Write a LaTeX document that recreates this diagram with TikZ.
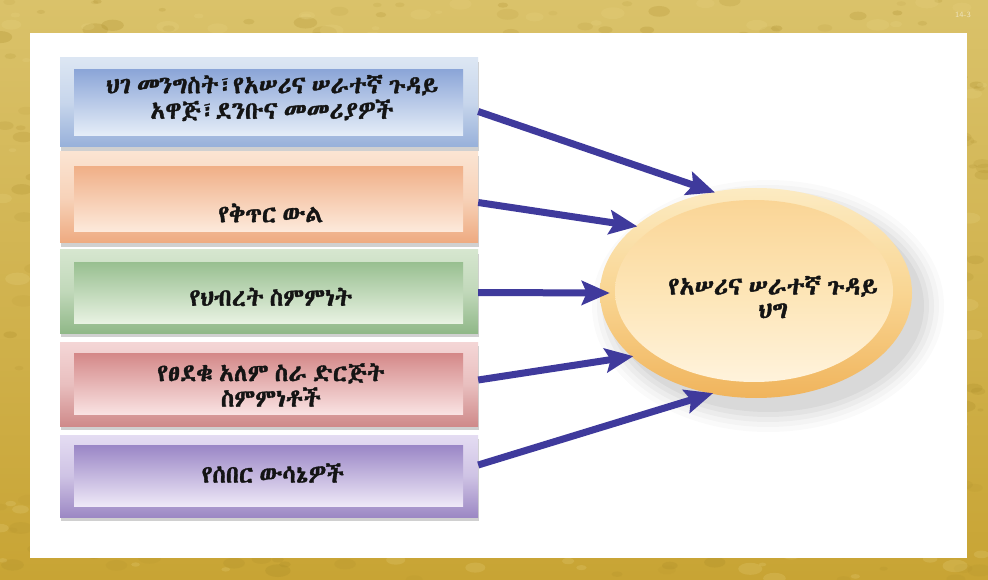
\documentclass[tikz,border=0pt]{standalone}
\usepackage{fontspec}
\usetikzlibrary{arrows.meta,shadows,shapes.geometric}
\IfFontExistsTF{Abyssinica SIL}{\newfontfamily\eth[Script=Ethiopic,FakeBold=1.4,WordSpace=0.55]{Abyssinica SIL}}{%
 \IfFontExistsTF{Noto Sans Ethiopic}{\newfontfamily\eth[Script=Ethiopic,FakeBold=1.0,WordSpace=0.55]{Noto Sans Ethiopic}}{%
  \IfFontExistsTF{Noto Serif Ethiopic}{\newfontfamily\eth[Script=Ethiopic,FakeBold=1.0,WordSpace=0.55]{Noto Serif Ethiopic}}{%
   \IfFontExistsTF{FreeSerif}{\newfontfamily\eth[Script=Ethiopic,FakeBold=1.2,WordSpace=0.55]{FreeSerif}}{%
    \newfontfamily\eth{Noto Sans}}}}}
\definecolor{goldA}{HTML}{DAC26A}
\definecolor{goldB}{HTML}{C8A434}
\definecolor{goldD}{HTML}{A88A28}
\definecolor{goldL}{HTML}{E8D484}
\definecolor{arrowc}{HTML}{3F3A9C}
\definecolor{elOt}{HTML}{FCEBC2}\definecolor{elOm}{HTML}{F9D592}\definecolor{elOb}{HTML}{F0B45C}
\definecolor{elIt}{HTML}{FAD596}\definecolor{elIm}{HTML}{FDE5B6}\definecolor{elIb}{HTML}{FFF3DC}
% box colours: frame top, frame bottom, inner top, inner bottom
\definecolor{bAft}{HTML}{DCE6F3}\definecolor{bAfb}{HTML}{97B0DA}\definecolor{bAit}{HTML}{8CA6D8}\definecolor{bAib}{HTML}{E6EEF8}
\definecolor{bBft}{HTML}{FBE4D2}\definecolor{bBfb}{HTML}{EEAA80}\definecolor{bBit}{HTML}{F0B088}\definecolor{bBib}{HTML}{FDEADC}
\definecolor{bCft}{HTML}{D6E6CF}\definecolor{bCfb}{HTML}{90B888}\definecolor{bCit}{HTML}{98BF90}\definecolor{bCib}{HTML}{E8F2E2}
\definecolor{bDft}{HTML}{F4D6D6}\definecolor{bDfb}{HTML}{CF8A8A}\definecolor{bDit}{HTML}{D48888}\definecolor{bDib}{HTML}{F9E2E2}
\definecolor{bEft}{HTML}{E4DCF2}\definecolor{bEfb}{HTML}{9C88C4}\definecolor{bEit}{HTML}{9A86C6}\definecolor{bEib}{HTML}{EEE8F7}
\tikzset{
  frame/.style={rectangle,inner sep=0pt,minimum width=418pt,
    drop shadow={shadow xshift=1pt,shadow yshift=-4pt,opacity=0.3,fill=black!60}},
  innerbox/.style={rectangle,inner sep=0pt,minimum width=389pt},
  lbl/.style={font=\eth\fontsize{24.5}{25.5}\selectfont,align=center,text=black!92,inner sep=0pt},
  elbl/.style={font=\eth\fontsize{25}{23.5}\selectfont,align=center,text=black!92,inner sep=0pt},
  feed/.style={line width=7pt,draw=arrowc,-{Stealth[length=28pt,width=24pt,inset=5pt]},shorten >=-2pt},
}
\begin{document}
\begin{tikzpicture}[x=1pt,y=-1pt]
\useasboundingbox (0,0) rectangle (988,580);
% gold border
\shade[top color=goldA,bottom color=goldB] (0,0) rectangle (988,580);
\pgfmathsetseed{11}
\foreach \i in {1,...,500}{
  \pgfmathsetmacro\bx{rnd*988}
  \pgfmathsetmacro\by{rnd*580}
  \pgfmathsetmacro\br{1.5+rnd*5}
  \pgfmathsetmacro\bo{0.08+rnd*0.18}
  \fill[goldD,opacity=\bo] (\bx,\by) ellipse[x radius=\br*2,y radius=\br];
}
\foreach \i in {1,...,300}{
  \pgfmathsetmacro\bx{rnd*988}
  \pgfmathsetmacro\by{rnd*580}
  \pgfmathsetmacro\br{1.5+rnd*5}
  \fill[goldL,opacity=0.22] (\bx,\by) ellipse[x radius=\br*2,y radius=\br];
}
\node[text=white,opacity=0.55,font=\sffamily\fontsize{8}{9}\selectfont,inner sep=0pt] (pg) at (963,15) {14-3};
% white panel
\fill[white] (30,33) rectangle (967,558);
% ellipse shadow
\foreach \k/\o in {0/0.04,5/0.035,10/0.03,15/0.025,20/0.02}{
  \fill[black,opacity=\o] (768,306) ellipse[x radius=156+\k,y radius=106+\k];
}
% boxes
\node[frame,minimum height=89pt,top color=bAft,bottom color=bAfb,middle color=bAft!70!bAfb] (f1) at (269,102.5) {};
\node[innerbox,minimum height=66pt,top color=bAit,bottom color=bAib] (b1) at (268.5,103) {};
\node[frame,minimum height=91pt,top color=bBft,bottom color=bBfb,middle color=bBft!70!bBfb] (f2) at (269,197.5) {};
\node[innerbox,minimum height=65pt,top color=bBit,bottom color=bBib] (b2) at (268.5,199.5) {};
\node[frame,minimum height=83pt,top color=bCft,bottom color=bCfb,middle color=bCft!70!bCfb] (f3) at (269,291.5) {};
\node[innerbox,minimum height=61pt,top color=bCit,bottom color=bCib] (b3) at (268.5,292.5) {};
\node[frame,minimum height=84pt,top color=bDft,bottom color=bDfb,middle color=bDft!70!bDfb] (f4) at (269,384) {};
\node[innerbox,minimum height=61pt,top color=bDit,bottom color=bDib] (b4) at (268.5,383.5) {};
\node[frame,minimum height=82pt,top color=bEft,bottom color=bEfb,middle color=bEft!70!bEfb] (f5) at (269,476) {};
\node[innerbox,minimum height=61pt,top color=bEit,bottom color=bEib] (b5) at (268.5,475.5) {};
% texts
\node[lbl] (t1) at (272,98) {ህገ መንግስት፣የአሠሪና ሠራተኛ ጉዳይ\\አዋጅ፣ደንቡና መመሪያዎች};
\node[lbl] (t2) at (271,213) {የቅጥር ውል};
\node[lbl] (t3) at (271,297) {የህብረት ስምምነት};
\node[lbl] (t4) at (271,385) {የፀደቁ አለም ስራ ድርጅት\\ስምምነቶች};
\node[lbl] (t5) at (273,473) {የሰበር ውሳኔዎች};
% ellipse
\node[ellipse,inner sep=0pt,minimum width=312pt,minimum height=210pt,
      top color=elOt,bottom color=elOb,middle color=elOm] (law) at (756,293) {};
\node[ellipse,inner sep=0pt,minimum width=278pt,minimum height=182pt,
      top color=elIt,bottom color=elIb,middle color=elIm] (lawin) at (754,291) {};
\node[elbl] (te) at (773,297) {የአሠሪና ሠራተኛ ጉዳይ\\ህግ};
% arrows
\draw[feed] ([yshift=-9pt]f1.east) -- (law.113);
\draw[feed] ([yshift=-5pt]f2.east) -- (law.151);
\draw[feed] ([yshift=-1pt]f3.east) -- ([xshift=8pt]law.180);
\draw[feed] ([yshift=4pt]f4.east) -- (law.207);
\draw[feed] ([yshift=11pt]f5.east) -- (law.246);
\end{tikzpicture}
\end{document}
